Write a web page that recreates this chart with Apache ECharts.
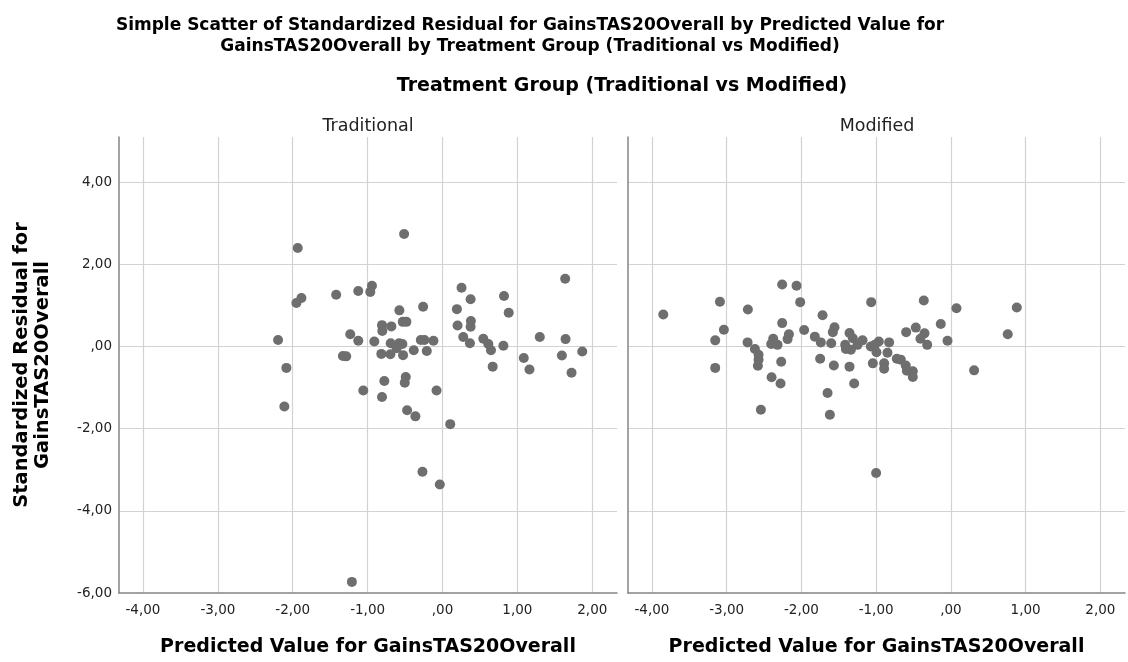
<!DOCTYPE html>
<html>
<head>
<meta charset="utf-8">
<title>Simple Scatter of Standardized Residual</title>
<script src="https://cdn.jsdelivr.net/npm/echarts@6/dist/echarts.min.js"></script>
<style>
  html, body { margin: 0; padding: 0; background: #fff; }
  #chart { width: 1128px; height: 662px; }
</style>
</head>
<body>
<div id="chart"></div>
<script>
// Predicted value (x) and standardized residual (y), Traditional group
const traditionalPoints = [
  [-0.513, 2.74], [-1.933, 2.40], [1.638, 1.65], [0.254, 1.43], [-0.942, 1.48],
  [-0.964, 1.33], [-1.125, 1.35], [-1.420, 1.26], [-1.884, 1.18], [-1.951, 1.06],
  [0.375, 1.15], [0.821, 1.23], [-0.259, 0.97], [0.884, 0.82], [0.192, 0.91],
  [-0.576, 0.88], [-0.531, 0.60], [-0.482, 0.60], [0.379, 0.62], [0.375, 0.48],
  [0.201, 0.51], [-0.808, 0.52], [-0.683, 0.49], [-0.804, 0.38], [-1.232, 0.30],
  [-1.125, 0.14], [-0.911, 0.12], [-2.196, 0.16], [-0.692, 0.08], [-0.580, 0.08],
  [-0.536, 0.06], [-0.612, -0.04], [-0.290, 0.16], [-0.241, 0.16], [-0.121, 0.14],
  [0.277, 0.23], [0.366, 0.08], [0.545, 0.19], [0.612, 0.06], [0.647, -0.09],
  [0.813, 0.02], [1.299, 0.23], [1.643, 0.18], [1.866, -0.12], [1.594, -0.22],
  [1.085, -0.28], [1.161, -0.56], [1.723, -0.64], [0.670, -0.49], [-0.384, -0.09],
  [-0.210, -0.11], [-0.527, -0.21], [-0.817, -0.18], [-0.696, -0.19], [-1.330, -0.23],
  [-1.286, -0.24], [-2.085, -0.52], [-0.491, -0.74], [-0.504, -0.88], [-0.777, -0.84],
  [-1.058, -1.07], [-0.080, -1.07], [-0.808, -1.23], [-2.112, -1.46], [-0.473, -1.55],
  [-0.362, -1.70], [0.103, -1.89], [-0.268, -3.05], [-0.036, -3.36], [-1.210, -5.73]
];

// Predicted value (x) and standardized residual (y), Modified group
const modifiedPoints = [
  [-3.848, 0.78], [-3.090, 1.09], [-3.037, 0.41], [-3.153, 0.15], [-3.153, -0.52],
  [-2.716, 0.90], [-2.257, 1.51], [-2.065, 1.48], [-2.016, 1.08], [-2.257, 0.57],
  [-2.720, 0.10], [-2.622, -0.06], [-2.573, -0.20], [-2.573, -0.32], [-2.582, -0.47],
  [-2.404, 0.06], [-2.377, 0.19], [-2.319, 0.04], [-2.270, -0.37], [-2.185, 0.18],
  [-2.167, 0.30], [-2.399, -0.75], [-2.279, -0.90], [-2.542, -1.54], [-1.963, 0.40],
  [-1.717, 0.76], [-1.820, 0.24], [-1.740, 0.10], [-1.749, -0.30], [-1.601, 0.08],
  [-1.557, 0.47], [-1.579, 0.35], [-1.566, -0.46], [-1.650, -1.13], [-1.619, -1.66],
  [-1.356, 0.33], [-1.312, 0.20], [-1.414, 0.04], [-1.405, -0.06], [-1.338, -0.08],
  [-1.249, 0.04], [-1.182, 0.15], [-1.356, -0.49], [-1.294, -0.90], [-1.066, 1.08],
  [-1.071, 0.00], [-1.017, 0.04], [-0.964, 0.12], [-0.995, -0.14], [-0.826, 0.10],
  [-0.848, -0.15], [-1.044, -0.41], [-0.893, -0.41], [-0.893, -0.54], [-1.000, -3.08],
  [-0.723, -0.30], [-0.670, -0.32], [-0.603, -0.46], [-0.589, -0.59], [-0.509, -0.60],
  [-0.509, -0.74], [-0.598, 0.35], [-0.469, 0.46], [-0.362, 1.12], [-0.353, 0.32],
  [-0.407, 0.19], [-0.317, 0.04], [-0.135, 0.55], [-0.045, 0.14], [0.075, 0.93],
  [0.311, -0.58], [0.761, 0.30], [0.882, 0.95]
];

const panelNames = ['Traditional', 'Modified'];
const xAxisTitle = 'Predicted Value for GainsTAS20Overall';
const yAxisTitle = 'Standardized Residual for\nGainsTAS20Overall';
const chartTitle = 'Simple Scatter of Standardized Residual for GainsTAS20Overall by Predicted Value for\nGainsTAS20Overall by Treatment Group (Traditional vs Modified)';
const groupTitle = 'Treatment Group (Traditional vs Modified)';

// Axis ranges; x steps by 1, y steps by 2
const xRange = [-4.32, 2.33];
const yRange = [-6, 5.1];

const FONT = '"DejaVu Sans", "Noto Sans", sans-serif';
const MARK = '#6e6e6e';

// Comma decimal style: 2,00  ,00  -4,00 (edge values off the step are left blank)
function commaFmt(v) {
  if (Math.abs(v - Math.round(v)) > 1e-6) return '';
  const r = Math.round(v);
  if (r === 0) return ',00';
  return (r < 0 ? '-' : '') + Math.abs(r) + ',00';
}

const grids = [
  { left: 119, top: 137, width: 498, height: 460.5 },
  { left: 628, top: 137, width: 498, height: 460.5 }
];

function makeX(i) {
  return {
    type: 'value', gridIndex: i, min: xRange[0], max: xRange[1],
    splitNumber: 6, minInterval: 1, maxInterval: 1,
    name: xAxisTitle, nameLocation: 'middle', nameGap: 45,
    nameTextStyle: { fontFamily: FONT, fontWeight: 'bold', fontSize: 19, color: '#000' },
    axisLine: { show: true, onZero: false, lineStyle: { color: '#858585', width: 1.5 } },
    axisTick: { show: false },
    axisLabel: { formatter: commaFmt, fontFamily: FONT, fontSize: 13.5, color: '#222', margin: 10 },
    splitLine: { show: true, showMinLine: false, showMaxLine: false,
                 lineStyle: { color: '#d2d2d2', width: 1.2 } }
  };
}

function makeY(i) {
  return {
    type: 'value', gridIndex: i, min: yRange[0], max: yRange[1],
    splitNumber: 5, minInterval: 2, maxInterval: 2,
    name: i === 0 ? yAxisTitle : '', nameLocation: 'middle', nameGap: 66, nameRotate: 90,
    nameTextStyle: { fontFamily: FONT, fontWeight: 'bold', fontSize: 19.5, color: '#000', lineHeight: 21 },
    axisLine: { show: true, onZero: false, lineStyle: { color: '#858585', width: 1.5 } },
    axisTick: { show: false },
    axisLabel: { show: i === 0, formatter: commaFmt, fontFamily: FONT, fontSize: 13.5, color: '#222', margin: 7 },
    splitLine: { show: true, showMinLine: false, showMaxLine: false,
                 lineStyle: { color: '#d2d2d2', width: 1.2 } }
  };
}

const chart = echarts.init(document.getElementById('chart'), null, { renderer: 'canvas' });

chart.setOption({
  backgroundColor: '#ffffff',
  animation: false,
  title: [
    { text: chartTitle, left: 525, top: 10, textAlign: 'center',
      textStyle: { fontFamily: FONT, fontWeight: 'bold', fontSize: 17, color: '#000', lineHeight: 21 } },
    { text: groupTitle, left: 617, top: 72, textAlign: 'center',
      textStyle: { fontFamily: FONT, fontWeight: 'bold', fontSize: 19, color: '#000' } },
    { text: panelNames[0], left: 363, top: 112, textAlign: 'center',
      textStyle: { fontFamily: FONT, fontWeight: 'normal', fontSize: 17.5, color: '#222' } },
    { text: panelNames[1], left: 872, top: 112, textAlign: 'center',
      textStyle: { fontFamily: FONT, fontWeight: 'normal', fontSize: 17.5, color: '#222' } }
  ],
  grid: grids,
  xAxis: [makeX(0), makeX(1)],
  yAxis: [makeY(0), makeY(1)],
  series: [
    { name: panelNames[0], type: 'scatter', xAxisIndex: 0, yAxisIndex: 0,
      data: traditionalPoints, symbolSize: 10, itemStyle: { color: MARK, opacity: 1 } },
    { name: panelNames[1], type: 'scatter', xAxisIndex: 1, yAxisIndex: 1,
      data: modifiedPoints, symbolSize: 10, itemStyle: { color: MARK, opacity: 1 } }
  ]
});
</script>
</body>
</html>
